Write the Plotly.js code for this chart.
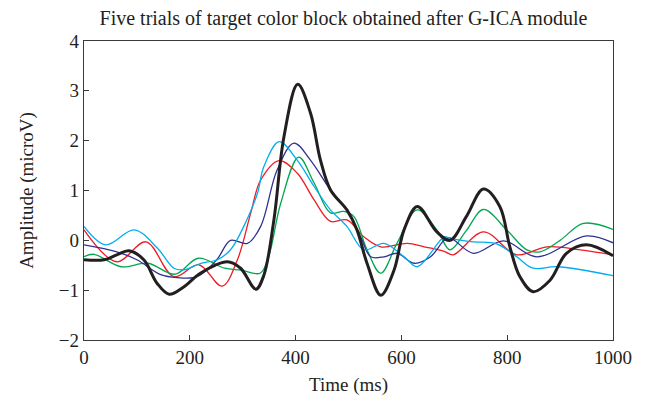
<!DOCTYPE html>
<html>
<head>
<meta charset="utf-8">
<script src="https://cdn.plot.ly/plotly-3.0.1.min.js"></script>
<style>html,body{margin:0;padding:0;background:#fff;}#chart{width:648px;height:402px;}</style>
</head>
<body>
<div id="chart"></div>
<script>
// Time (ms) and amplitude (microV) samples, per trial
const redT   = [0,62,117,170,217,261,290,315,334,369,403,435,466,497,529,561,611,643,681,698,755,818,875,938,1000];
const redV   = [0.21,-0.43,-0.03,-0.73,-0.49,-0.92,-0.39,0.54,1.21,1.6,1.35,0.81,0.38,0.41,0.07,-0.13,-0.06,-0.13,-0.22,-0.29,0.17,-0.29,-0.13,-0.19,-0.29];

const greenT = [0,19,70,121,172,216,266,297,333,349,372,406,435,466,491,510,535,561,592,630,667,692,723,755,799,837,862,900,944,1000];
const greenV = [-0.33,-0.28,-0.53,-0.46,-0.68,-0.36,-0.56,-0.6,-0.66,-0.33,0.75,1.67,1.15,0.55,0.58,0.48,-0.19,-0.66,-0.05,0.61,0.21,-0.19,0.2,0.62,0.21,-0.19,-0.23,0.0,0.34,0.22];

const blueT  = [0,62,100,145,176,214,251,277,309,334,365,397,428,466,497,523,542,567,592,624,655,681,692,736,793,856,950,1000];
const blueV  = [-0.09,-0.23,-0.39,-0.69,-0.75,-0.73,-0.39,0.0,-0.06,0.28,1.41,1.95,1.61,1.01,0.61,0.07,-0.33,-0.33,-0.26,-0.46,-0.33,0.0,0.05,-0.26,-0.01,-0.33,0.09,-0.05];

const cyanT  = [0,41,95,139,170,189,221,252,277,302,328,340,369,403,435,466,497,529,567,605,630,681,692,736,780,818,849,894,1000];
const cyanV  = [0.28,-0.09,0.21,-0.16,-0.56,-0.59,-0.46,-0.39,-0.19,0.28,0.95,1.48,1.98,1.61,1.08,0.61,0.28,-0.19,-0.06,-0.33,-0.53,0.07,0.04,-0.03,-0.07,-0.33,-0.56,-0.53,-0.71];

const blackT = [0,38,62,85,113,138,161,189,220,271,296,325,340,359,378,404,428,447,466,497,516,535,561,586,605,630,667,692,723,755,786,805,824,849,881,912,950,1000];
const blackV = [-0.39,-0.39,-0.29,-0.21,-0.39,-0.86,-1.08,-0.93,-0.66,-0.43,-0.56,-0.98,-0.7,0.41,2.08,3.13,2.56,1.61,1.01,0.61,0.21,-0.46,-1.1,-0.6,0.21,0.68,0.17,0.0,0.48,1.03,0.68,-0.13,-0.73,-1.03,-0.8,-0.26,-0.09,-0.31];

const xTicks = [0,200,400,600,800,1000];
const yTicks = [-2,-1,0,1,2,3,4];

const FONT = "'Liberation Serif', 'DejaVu Serif', serif";

function tr(x, y, color, width) {
  return {x: x, y: y, type: 'scatter', mode: 'lines',
          line: {color: color, width: width, shape: 'spline', smoothing: 1},
          hoverinfo: 'skip', showlegend: false};
}

const data = [
  tr(redT, redV, '#ed1c24', 1.3),
  tr(greenT, greenV, '#00a651', 1.3),
  tr(blueT, blueV, '#2e3192', 1.3),
  tr(cyanT, cyanV, '#00aeef', 1.3),
  tr(blackT, blackV, '#231f20', 3)
];

const axisCommon = {
  showgrid: false, zeroline: false, showline: true, mirror: true,
  linecolor: '#3a3a3a', linewidth: 1.2,
  ticks: 'inside', ticklen: 5, tickwidth: 1, tickcolor: '#3a3a3a',
  tickfont: {family: FONT, size: 19, color: '#231f20'}
};

const layout = {
  width: 648, height: 402,
  margin: {l: 84, r: 35, t: 41, b: 62},
  paper_bgcolor: '#fff', plot_bgcolor: '#fff',
  title: {text: 'Five trials of target color block obtained after G-ICA module',
          font: {family: FONT, size: 20, color: '#231f20'},
          x: 0.53, xanchor: 'center', y: 0.955, yanchor: 'middle'},
  xaxis: Object.assign({}, axisCommon, {
    range: [0, 1000], tickvals: xTicks, ticktext: xTicks.map(String),
    title: {text: 'Time (ms)', font: {family: FONT, size: 19, color: '#231f20'}, standoff: 10}
  }),
  yaxis: Object.assign({}, axisCommon, {
    range: [-2, 4], tickvals: yTicks,
    title: {text: 'Amplitude (microV)', font: {family: FONT, size: 19, color: '#231f20'}, standoff: 20}
  })
};

Plotly.newPlot('chart', data, layout, {staticPlot: true, displayModeBar: false});
</script>
</body>
</html>
